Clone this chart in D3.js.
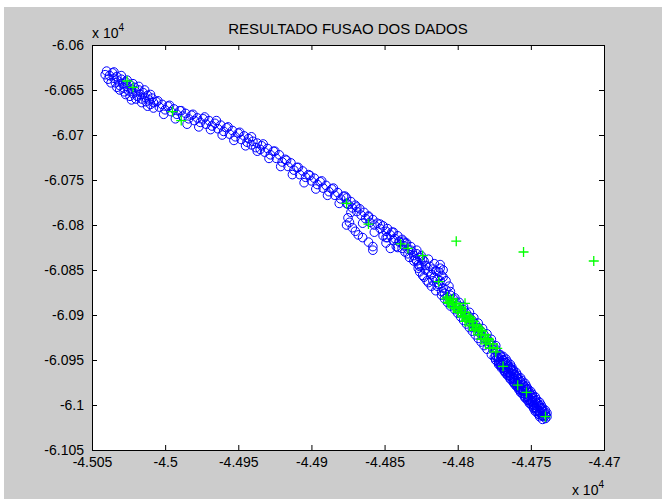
<!DOCTYPE html>
<html>
<head>
<meta charset="utf-8">
<script src="https://cdn.jsdelivr.net/npm/d3@7"></script>
<style>
  body { margin: 0; background: #fff; }
  svg text { font-family: 'Liberation Sans', Arial, sans-serif; fill: #000; }
</style>
</head>
<body>
<svg id="graph"></svg>
<script>
/* global d3 */
const title = 'RESULTADO FUSAO DOS DADOS'
const xTicks = [-45050, -45000, -44950, -44900, -44850, -44800, -44750, -44700]
const yTicks = [-60600, -60650, -60700, -60750, -60800, -60850, -60900, -60950, -61000, -61050]

// blue circles (first data set)
const blueX = [
  -45040, -45038, -45039, -45036, -45035, -45034, -45033, -45032, -45031, -45030,
  -45029, -45028, -45027, -45026, -45025, -45024, -45023, -45022, -45021, -45020,
  -45019, -45018, -45017, -45016, -45015, -45014, -45013, -45012, -45011, -45010,
  -45009, -45008,
  -45041, -45037, -45035, -45033, -45030, -45028, -45026, -45024, -45022, -45020,
  -45018, -45016, -45014, -45012, -45010, -45008, -45027, -45023, -45031,
  -45006, -45004, -45002, -45000, -44998, -44996, -44994, -44992, -44990, -44988,
  -44986, -44984, -44982, -44980, -44978, -44976,
  -44974, -44972, -44970, -44968, -44966, -44964, -44962, -44960, -44958, -44956,
  -44954, -44952, -44950, -44948, -44946, -44944, -44943, -44941, -44940, -44938,
  -44937, -44935, -44934, -44932, -44930, -44928, -44926, -44924, -44922, -44920,
  -44918, -44916, -44914, -44912, -44910, -44908,
  -44906, -44904, -44902, -44900, -44898, -44896, -44894, -44892, -44890, -44888,
  -44886, -44884, -44882, -44880, -44878, -44876,
  -45005, -45001, -44997, -44993, -44989, -44985, -44981, -44977, -44973, -44969,
  -44965, -44961, -44957, -44953, -44949, -44945, -44941, -44937, -44933, -44929,
  -44925, -44921, -44917, -44913, -44909, -44905, -44901, -44897, -44893, -44889,
  -44885, -44881, -44877, -44873, -44869, -44865, -44861, -44857, -44853, -44849,
  -44845, -44841, -44837,
  -44875, -44876, -44872, -44868, -44865, -44861, -44858, -44858, -44874, -44870,
  -44851, -44849, -44846, -44844, -44848, -44842,
  -44876, -44875, -44873, -44872, -44870, -44869, -44867, -44866, -44864, -44863,
  -44861, -44860, -44858, -44857, -44855, -44853, -44851, -44849, -44848, -44846,
  -44844, -44843, -44841, -44840, -44838, -44837, -44835, -44834, -44832, -44831,
  -44840, -44838, -44836, -44834, -44832, -44830, -44828, -44826, -44833, -44836,
  -44830, -44828, -44826, -44825, -44823, -44822, -44820, -44819, -44818, -44816,
  -44815, -44814, -44812, -44811, -44813, -44810, -44808, -44809, -44806, -44827,
  -44824, -44821, -44818, -44815,
  -44829, -44827, -44824, -44822, -44820, -44817, -44816, -44813, -44812, -44810,
  -44826, -44823, -44820, -44817, -44814, -44811, -44808, -44828, -44825, -44812,
  -44810,
  -44807, -44805, -44804, -44802, -44800, -44799, -44797, -44796, -44794, -44792,
  -44791, -44789, -44788, -44786, -44785, -44783, -44782, -44780, -44779, -44777,
  -44776, -44774,
  -44811, -44805, -44809, -44803, -44807, -44801, -44805, -44799, -44802, -44796,
  -44800, -44794, -44798, -44792, -44796, -44790, -44794, -44788, -44792, -44786,
  -44790, -44784, -44788, -44782, -44786, -44780, -44784, -44778, -44782, -44776,
  -44780, -44774,
  -44774, -44773, -44772, -44771, -44770, -44769, -44768, -44767, -44766, -44765,
  -44764, -44763, -44762, -44761, -44760, -44759, -44758, -44757, -44756, -44755,
  -44754, -44753, -44752, -44751, -44750, -44749, -44748, -44747, -44746, -44745,
  -44744, -44743, -44742, -44741, -44740, -44742, -44744, -44746, -44748, -44750,
  -44752, -44754, -44756, -44758, -44760, -44762, -44764, -44766, -44768, -44770,
  -44772, -44774,
  -44777, -44771, -44775, -44770, -44772, -44774, -44769, -44772, -44767, -44769,
  -44771, -44766, -44769, -44764, -44766, -44768, -44763, -44767, -44762, -44764,
  -44765, -44760, -44764, -44759, -44761, -44762, -44757, -44761, -44756, -44758,
  -44759, -44754, -44758, -44753, -44755, -44757, -44752, -44755, -44750, -44752,
  -44754, -44749, -44752, -44747, -44749, -44751, -44746, -44749, -44744, -44746,
  -44748, -44743, -44747, -44742, -44744, -44745, -44740, -44744, -44739, -44741,
  -44774, -44769, -44772, -44767, -44771, -44766, -44769, -44764, -44768, -44763,
  -44767, -44762, -44765, -44760, -44764, -44759, -44762, -44757, -44761, -44756,
  -44759, -44754, -44758, -44753, -44757, -44752, -44755, -44750, -44754, -44749,
  -44752, -44747, -44751, -44746, -44749, -44744, -44748, -44743, -44747, -44742,
  -44745, -44740, -44744, -44739, -44742, -44740
]
const blueY = [
  -60629, -60634, -60638, -60631, -60637, -60642, -60635, -60640, -60645, -60638,
  -60643, -60648, -60641, -60646, -60651, -60644, -60649, -60654, -60647, -60652,
  -60657, -60650, -60655, -60660, -60653, -60658, -60663, -60656, -60661, -60666,
  -60659, -60664,
  -60633, -60642, -60630, -60647, -60634, -60652, -60639, -60657, -60643, -60660,
  -60646, -60664, -60650, -60668, -60655, -60670, -60655, -60661, -60650,
  -60663, -60669, -60666, -60672, -60668, -60674, -60671, -60677, -60673, -60679,
  -60676, -60682, -60678, -60684, -60681, -60686,
  -60682, -60688, -60684, -60690, -60687, -60693, -60689, -60696, -60692, -60699,
  -60695, -60702, -60698, -60705, -60701, -60708, -60704, -60711, -60707, -60714,
  -60709, -60716, -60712, -60719, -60715, -60722, -60718, -60726, -60722, -60730,
  -60727, -60735, -60731, -60739, -60736, -60744,
  -60740, -60747, -60744, -60751, -60748, -60755, -60752, -60759, -60756, -60763,
  -60760, -60767, -60764, -60771, -60768, -60776,
  -60662, -60677, -60667, -60682, -60673, -60688, -60677, -60691, -60680, -60694,
  -60684, -60700, -60691, -60706, -60697, -60712, -60702, -60718, -60710, -60726,
  -60718, -60735, -60728, -60744, -60736, -60753, -60745, -60760, -60751, -60767,
  -60759, -60776, -60768, -60786, -60780, -60798, -60791, -60808, -60799, -60814,
  -60808, -60825, -60818,
  -60792, -60800, -60803, -60811, -60814, -60819, -60824, -60828, -60797, -60807,
  -60812, -60820, -60826, -60817, -60814, -60824,
  -60770, -60777, -60774, -60781, -60778, -60785, -60782, -60789, -60786, -60793,
  -60790, -60797, -60794, -60800, -60798, -60804, -60801, -60807, -60804, -60811,
  -60808, -60815, -60812, -60819, -60816, -60823, -60820, -60827, -60824, -60830,
  -60818, -60826, -60820, -60832, -60828, -60840, -60828, -60846, -60836, -60830,
  -60834, -60840, -60836, -60845, -60840, -60850, -60838, -60846, -60855, -60843,
  -60851, -60860, -60848, -60856, -60866, -60870, -60862, -60876, -60868, -60848,
  -60856, -60862, -60868, -60873,
  -60838, -60844, -60838, -60845, -60852, -60849, -60858, -60852, -60862, -60858,
  -60852, -60858, -60864, -60862, -60868, -60874, -60872, -60832, -60834, -60844,
  -60850,
  -60880, -60874, -60886, -60881, -60892, -60886, -60897, -60891, -60903, -60897,
  -60909, -60903, -60914, -60909, -60920, -60915, -60926, -60921, -60932, -60927,
  -60938, -60934,
  -60878, -60878, -60882, -60882, -60886, -60886, -60890, -60890, -60894, -60894,
  -60898, -60898, -60902, -60902, -60906, -60906, -60910, -60910, -60914, -60914,
  -60918, -60918, -60922, -60922, -60926, -60926, -60930, -60930, -60934, -60934,
  -60938, -60938,
  -60940, -60947, -60952, -60945, -60956, -60950, -60960, -60953, -60964, -60957,
  -60968, -60961, -60972, -60966, -60976, -60970, -60980, -60974, -60984, -60978,
  -60988, -60982, -60992, -60986, -60996, -60990, -61000, -60995, -61004, -60999,
  -61008, -61003, -61012, -61007, -61015, -61016, -61011, -61007, -61003, -60999,
  -60995, -60991, -60987, -60983, -60979, -60975, -60971, -60967, -60963, -60959,
  -60955, -60950,
  -60944, -60944, -60947, -60947, -60947, -60950, -60950, -60953, -60953, -60953,
  -60956, -60956, -60959, -60959, -60959, -60962, -60962, -60965, -60965, -60965,
  -60968, -60968, -60971, -60971, -60971, -60974, -60974, -60977, -60977, -60977,
  -60980, -60980, -60983, -60983, -60983, -60986, -60986, -60989, -60989, -60989,
  -60992, -60992, -60995, -60995, -60995, -60998, -60998, -61001, -61001, -61001,
  -61004, -61004, -61007, -61007, -61007, -61010, -61010, -61013, -61013, -61013,
  -60946, -60946, -60949, -60949, -60952, -60952, -60955, -60955, -60958, -60958,
  -60961, -60961, -60964, -60964, -60967, -60967, -60970, -60970, -60973, -60973,
  -60976, -60976, -60979, -60979, -60982, -60982, -60985, -60985, -60988, -60988,
  -60991, -60991, -60994, -60994, -60997, -60997, -61000, -61000, -61003, -61003,
  -61006, -61006, -61009, -61009, -61012, -61012
]

// green crosses (fused data set)
const greenX = [
  -45026, -45022, -44995, -44989, -44876, -44861, -44839, -44834, -44824, -44813,
  -44801, -44755, -44707, -44807, -44795, -44769, -44759, -44753, -44740,
  -44807, -44806, -44805, -44804, -44803, -44802, -44801, -44800, -44799, -44798,
  -44797, -44796, -44795, -44794, -44793, -44792, -44791, -44790, -44789, -44788,
  -44787, -44786, -44785, -44784, -44783, -44782, -44781, -44780, -44778, -44776,
  -44774, -44779,
  -44808, -44803, -44806, -44801, -44803, -44798, -44800, -44795, -44797, -44792,
  -44795, -44790, -44792, -44787, -44789, -44784, -44786, -44781, -44784, -44779,
  -44781, -44776, -44778, -44773
]
const greenY = [
  -60640, -60647, -60674, -60684, -60776, -60799, -60821, -60826, -60834, -60863,
  -60818, -60830, -60840, -60886, -60887, -60957, -60978, -60986, -61013,
  -60880, -60886, -60883, -60889, -60885, -60892, -60888, -60895, -60891, -60898,
  -60894, -60901, -60897, -60905, -60901, -60908, -60904, -60911, -60907, -60915,
  -60911, -60918, -60915, -60922, -60918, -60926, -60922, -60929, -60932, -60936,
  -60941, -60926,
  -60882, -60882, -60887, -60887, -60892, -60892, -60897, -60897, -60902, -60902,
  -60907, -60907, -60912, -60912, -60917, -60917, -60922, -60922, -60927, -60927,
  -60932, -60932, -60937, -60937
]

const W = 662
const H = 499
const margin = { top: 45, right: 58, bottom: 49, left: 92 }

const svg = d3.select('#graph').attr('width', W).attr('height', H)

// figure background
svg.append('rect').attr('width', W).attr('height', H).attr('fill', '#fff')
svg.append('rect').attr('x', 4).attr('y', 7).attr('width', W - 4).attr('height', H - 7).attr('fill', '#cccccc')

const xScale = d3.scaleLinear()
  .domain([-45050, -44700])
  .range([margin.left, W - margin.right])

const yScale = d3.scaleLinear()
  .domain([-60600, -61050])
  .range([margin.top, H - margin.bottom])

const fmt = d => String(+(d / 1e4).toFixed(3))

// axes box
svg.append('rect')
  .attr('x', xScale.range()[0])
  .attr('y', yScale.range()[0])
  .attr('width', xScale.range()[1] - xScale.range()[0])
  .attr('height', yScale.range()[1] - yScale.range()[0])
  .attr('fill', '#fff')

const style = g => {
  g.select('.domain').remove()
  g.selectAll('line').attr('stroke', '#000')
  g.selectAll('text').attr('font-size', 14).attr('font-family', null)
}

svg.append('g')
  .attr('transform', `translate(0,${yScale.range()[1]})`)
  .call(d3.axisBottom(xScale).tickValues(xTicks).tickFormat(fmt).tickSizeInner(-5).tickSizeOuter(0).tickPadding(7))
  .call(style)

svg.append('g')
  .attr('transform', `translate(0,${yScale.range()[0]})`)
  .call(d3.axisTop(xScale).tickValues(xTicks).tickFormat('').tickSizeInner(-5).tickSizeOuter(0))
  .call(style)

svg.append('g')
  .attr('transform', `translate(${xScale.range()[0]},0)`)
  .call(d3.axisLeft(yScale).tickValues(yTicks).tickFormat(fmt).tickSizeInner(-5).tickSizeOuter(0).tickPadding(8))
  .call(style)

svg.append('g')
  .attr('transform', `translate(${xScale.range()[1]},0)`)
  .call(d3.axisRight(yScale).tickValues(yTicks).tickFormat('').tickSizeInner(-5).tickSizeOuter(0))
  .call(style)

svg.append('rect')
  .attr('x', xScale.range()[0] + 0.5)
  .attr('y', yScale.range()[0] + 0.5)
  .attr('width', xScale.range()[1] - xScale.range()[0])
  .attr('height', yScale.range()[1] - yScale.range()[0])
  .attr('fill', 'none')
  .attr('stroke', '#000')

// data
svg.append('g')
  .selectAll('circle')
  .data(blueX.map((x, i) => [x, blueY[i]]))
  .enter()
  .append('circle')
  .attr('cx', d => xScale(d[0]))
  .attr('cy', d => yScale(d[1]))
  .attr('r', 4.3)
  .attr('fill', 'none')
  .attr('stroke', '#0000ff')
  .attr('stroke-width', 1)

svg.append('g')
  .selectAll('path')
  .data(greenX.map((x, i) => [x, greenY[i]]))
  .enter()
  .append('path')
  .attr('d', d => `M${xScale(d[0]) - 5},${yScale(d[1])}h10M${xScale(d[0])},${yScale(d[1]) - 5}v10`)
  .attr('stroke', '#00ff00')
  .attr('stroke-width', 1.3)

// title and exponent labels
svg.append('text')
  .attr('x', d3.mean(xScale.range()))
  .attr('y', 34)
  .attr('text-anchor', 'middle')
  .attr('font-size', 15)
  .text(title)

const expTop = svg.append('text').attr('x', xScale.range()[0]).attr('y', 38).attr('font-size', 14)
expTop.append('tspan').text('x 10')
expTop.append('tspan').attr('dy', -7).attr('font-size', 10).text('4')

const expBottom = svg.append('text').attr('x', xScale.range()[1]).attr('y', 495).attr('text-anchor', 'end').attr('font-size', 14)
expBottom.append('tspan').text('x 10')
expBottom.append('tspan').attr('dy', -7).attr('font-size', 10).text('4')
</script>
</body>
</html>
